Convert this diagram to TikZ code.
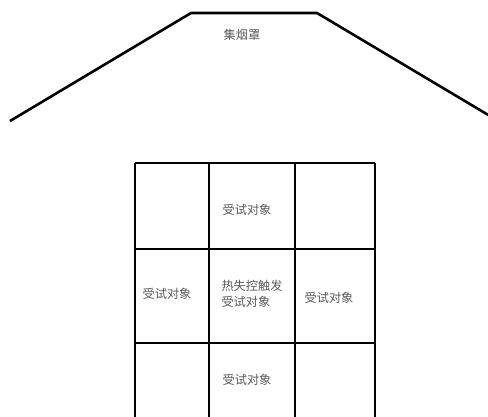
\documentclass[tikz,border=0pt]{standalone}
\usepackage{fontspec}
\newfontfamily\cjk{Noto Sans CJK SC}
\begin{document}
\begin{tikzpicture}[x=1pt,y=-1pt,
  wall/.style={line width=2.6pt,black,line join=miter},
  lbl/.style={font=\cjk\fontsize{12.2}{16}\selectfont,text=black!65,inner sep=0pt,align=left}]
\useasboundingbox (0,0) rectangle (488,416);
% hood
\draw[wall] (10,121) -- (191,13) -- (317,13) -- (490,116);
\node[lbl] (hood) at (242,35) {集烟罩};
% grid
\draw[wall] (135,163) -- (375,163);
\draw[wall] (135,249) -- (375,249);
\draw[wall] (135,343) -- (375,343);
\foreach \x in {135,209,295,375} \draw[wall] (\x,163) -- (\x,417);
% labels
\node[lbl] (top) at (247,210) {受试对象};
\node[lbl] (left) at (167,294) {受试对象};
\node[lbl] (mid) at (252,294) {热失控触发\\受试对象};
\node[lbl] (right) at (329,298) {受试对象};
\node[lbl] (bottom) at (247,380) {受试对象};
\end{tikzpicture}
\end{document}
